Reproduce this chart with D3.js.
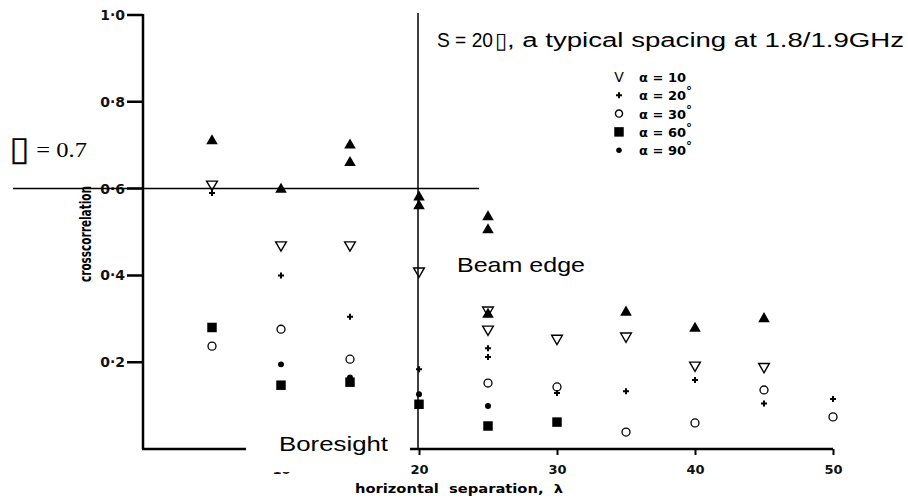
<!DOCTYPE html>
<html>
<head>
<meta charset="utf-8">
<script src="https://cdn.jsdelivr.net/npm/d3@7"></script>
<style>
  body { margin: 0; background: #fff; }
  svg { display: block; }
  text { white-space: pre; }
</style>
</head>
<body>
<div id="chart"></div>
<script>
// Plot constants
const WIDTH = 908;
const HEIGHT = 500;

// Data (separation in wavelengths, cross correlation)
const filledTriSep = [5, 10, 15, 15, 20, 20, 25, 25, 25, 35, 40, 45];
const filledTriVal = [0.71, 0.598, 0.70, 0.66, 0.58, 0.56, 0.535, 0.505, 0.31, 0.315, 0.278, 0.30];

const alpha10Sep = [5, 10, 15, 20, 25, 25, 30, 35, 40, 45];
const alpha10Val = [0.61, 0.47, 0.47, 0.41, 0.32, 0.276, 0.255, 0.26, 0.193, 0.19];

const alpha20Sep = [5, 10, 15, 20, 25, 25, 30, 35, 40, 45, 50];
const alpha20Val = [0.59, 0.40, 0.305, 0.184, 0.232, 0.212, 0.129, 0.133, 0.159, 0.105, 0.115];

const alpha30Sep = [5, 10, 15, 25, 30, 35, 40, 45, 50];
const alpha30Val = [0.237, 0.276, 0.207, 0.152, 0.143, 0.039, 0.06, 0.136, 0.074];

const alpha60Sep = [5, 10, 15, 20, 25, 30];
const alpha60Val = [0.28, 0.147, 0.154, 0.103, 0.053, 0.062];

const alpha90Sep = [10, 15, 20, 25];
const alpha90Val = [0.195, 0.165, 0.126, 0.099];

const yTicks = [0.2, 0.4, 0.6, 0.8, 1.0];
const xTicks = [10, 20, 30, 40, 50];
const legendLabels = ["α = 10", "α = 20°", "α = 30°", "α = 60°", "α = 90°"];

const thresholdValue = 0.6;   // horizontal reference line
const beamEdgeSep = 20;       // vertical reference line

const fmt = d => d.toFixed(1).replace(".", "·");

// Canvas
const svg = d3.select("#chart").append("svg")
  .attr("width", WIDTH)
  .attr("height", HEIGHT);

const x = d3.scaleLinear().domain([0, 50]).range([143, 833]);
const y = d3.scaleLinear().domain([0, 1]).range([449, 15]);

// Axes
const yAxis = svg.append("g")
  .attr("transform", `translate(${x(0)},0)`)
  .call(d3.axisLeft(y).tickValues(yTicks).tickFormat(fmt).tickSize(0).tickPadding(18));
yAxis.select(".domain").attr("stroke-width", 2.5).attr("d", `M0,${y(1) - 1}V${y(0)}`);
yAxis.selectAll(".tick text")
  .attr("font-family", "DejaVu Sans, sans-serif")
  .attr("font-weight", "bold")
  .attr("font-size", 14)
  .attr("fill", "#111");

// tick dashes as one path
const dashPath = d3.path();
yTicks.forEach(d => {
  dashPath.moveTo(x(0) - 16, y(d));
  dashPath.lineTo(x(0), y(d));
});
svg.append("path")
  .attr("d", dashPath.toString())
  .attr("fill", "none")
  .attr("stroke", "#000")
  .attr("stroke-width", 2.5);

const xAxis = svg.append("g")
  .attr("transform", `translate(0,${y(0)})`)
  .call(d3.axisBottom(x).tickValues(xTicks).tickFormat(d3.format("d")).tickSize(6).tickPadding(10));
xAxis.select(".domain").attr("stroke-width", 2.5).attr("d", `M${x(0) - 1},0H${x(50)}`);
xAxis.selectAll(".tick line").attr("stroke", "#000").attr("stroke-width", 2);
xAxis.selectAll(".tick text")
  .attr("font-family", "DejaVu Sans, sans-serif")
  .attr("font-weight", "bold")
  .attr("font-size", 13)
  .attr("fill", "#111");

// Axis titles
svg.append("text")
  .attr("transform", `translate(91,234) rotate(-90)`)
  .attr("text-anchor", "middle")
  .attr("font-family", "DejaVu Sans, sans-serif")
  .attr("font-weight", 600)
  .attr("font-size", 15)
  .attr("textLength", 96)
  .attr("lengthAdjust", "spacingAndGlyphs")
  .text("crosscorrelation");

svg.append("text")
  .attr("x", 355)
  .attr("y", 493)
  .attr("font-family", "DejaVu Sans, sans-serif")
  .attr("font-weight", "bold")
  .attr("font-size", 12)
  .attr("textLength", 208)
  .attr("lengthAdjust", "spacingAndGlyphs")
  .text("horizontal  separation,  λ");

// Reference lines
svg.append("line")
  .attr("x1", 13).attr("x2", 479)
  .attr("y1", y(thresholdValue)).attr("y2", y(thresholdValue))
  .attr("stroke", "#000").attr("stroke-width", 1.5);

svg.append("line")
  .attr("x1", x(beamEdgeSep) - 1).attr("x2", x(beamEdgeSep) - 1)
  .attr("y1", 13).attr("y2", y(0))
  .attr("stroke", "#000").attr("stroke-width", 1.5);

// Markers
const pts = (sx, sy) => sx.map((d, i) => [d, sy[i]]);
const marks = svg.append("g");

function drawSymbol(data, type, size, opts) {
  marks.append("g").selectAll("path")
    .data(data)
    .join("path")
    .attr("transform", d => `translate(${x(d[0])},${y(d[1])})${opts.rotate ? " rotate(180)" : ""}`)
    .attr("d", d3.symbol().type(type).size(size))
    .attr("fill", opts.fill)
    .attr("stroke", opts.stroke || "none")
    .attr("stroke-width", opts.strokeWidth || 0);
}

drawSymbol(pts(alpha10Sep, alpha10Val), d3.symbolTriangle, 50, {fill: "none", stroke: "#000", strokeWidth: 1.4, rotate: true});
drawSymbol(pts(alpha20Sep, alpha20Val), d3.symbolCross, 20, {fill: "#000"});
drawSymbol(pts(alpha30Sep, alpha30Val), d3.symbolCircle, 50, {fill: "none", stroke: "#000", strokeWidth: 1.3});
drawSymbol(pts(alpha60Sep, alpha60Val), d3.symbolSquare, 90, {fill: "#000"});
drawSymbol(pts(alpha90Sep, alpha90Val), d3.symbolCircle, 28, {fill: "#000"});
drawSymbol(pts(filledTriSep, filledTriVal), d3.symbolTriangle, 58, {fill: "#000"});

// White patch hiding part of the x axis behind the "Boresight" label
svg.append("rect")
  .attr("x", 246).attr("y", 424)
  .attr("width", 164).attr("height", 48)
  .attr("fill", "#fff");

// Legend
const legend = svg.append("g").attr("font-family", "DejaVu Sans, sans-serif").attr("fill", "#000");
const legendY = i => 77 + i * 18.3;
const legendSymbols = [null, d3.symbolCross, d3.symbolCircle, d3.symbolSquare, d3.symbolCircle];
const legendSizes = [0, 20, 40, 90, 24];
legendLabels.forEach((lab, i) => {
  if (i === 0) {
    legend.append("text")
      .attr("x", 619).attr("y", legendY(i) + 5)
      .attr("text-anchor", "middle")
      .attr("font-size", 14)
      .text("V");
  } else {
    legend.append("path")
      .attr("transform", `translate(619,${legendY(i)})`)
      .attr("d", d3.symbol().type(legendSymbols[i]).size(legendSizes[i]))
      .attr("fill", i === 2 ? "none" : "#000")
      .attr("stroke", i === 2 ? "#000" : "none")
      .attr("stroke-width", 1.4);
  }
  const t = legend.append("text")
    .attr("x", 639).attr("y", legendY(i) + 5)
    .attr("font-size", 13)
    .attr("font-weight", 600);
  const m = lab.match(/^(.*?)(°?)$/);
  t.append("tspan").text(m[1]);
  if (m[2]) t.append("tspan").attr("dy", -5).attr("font-size", 12).text(m[2]);
});

// Annotations
const ann = svg.append("g").attr("fill", "#000")
  .attr("font-family", "Liberation Sans, Arial, sans-serif");
ann.append("text")
  .attr("x", 437).attr("y", 47)
  .attr("font-size", 20)
  .attr("textLength", 56)
  .attr("lengthAdjust", "spacingAndGlyphs")
  .text("S = 20");
ann.append("text")
  .attr("x", 495).attr("y", 48)
  .attr("font-size", 22)
  .attr("font-weight", 300)
  .text("▯");
ann.append("text")
  .attr("x", 507).attr("y", 47)
  .attr("font-size", 20)
  .attr("textLength", 397)
  .attr("lengthAdjust", "spacingAndGlyphs")
  .text(", a typical spacing at 1.8/1.9GHz");

ann.append("text")
  .attr("x", 457).attr("y", 272)
  .attr("font-size", 21)
  .attr("textLength", 128)
  .attr("lengthAdjust", "spacingAndGlyphs")
  .text("Beam edge");

ann.append("text")
  .attr("x", 279).attr("y", 451)
  .attr("font-size", 21)
  .attr("textLength", 109)
  .attr("lengthAdjust", "spacingAndGlyphs")
  .text("Boresight");

const rho = ann.append("text")
  .attr("x", 9).attr("y", 160)
  .attr("font-family", "Liberation Serif, Times New Roman, serif")
  .attr("font-size", 22)
  .attr("textLength", 78)
  .attr("lengthAdjust", "spacingAndGlyphs");
rho.append("tspan").attr("font-size", 34).text("▯");
rho.append("tspan").attr("dy", -3).text(" = 0.7");
</script>
</body>
</html>
